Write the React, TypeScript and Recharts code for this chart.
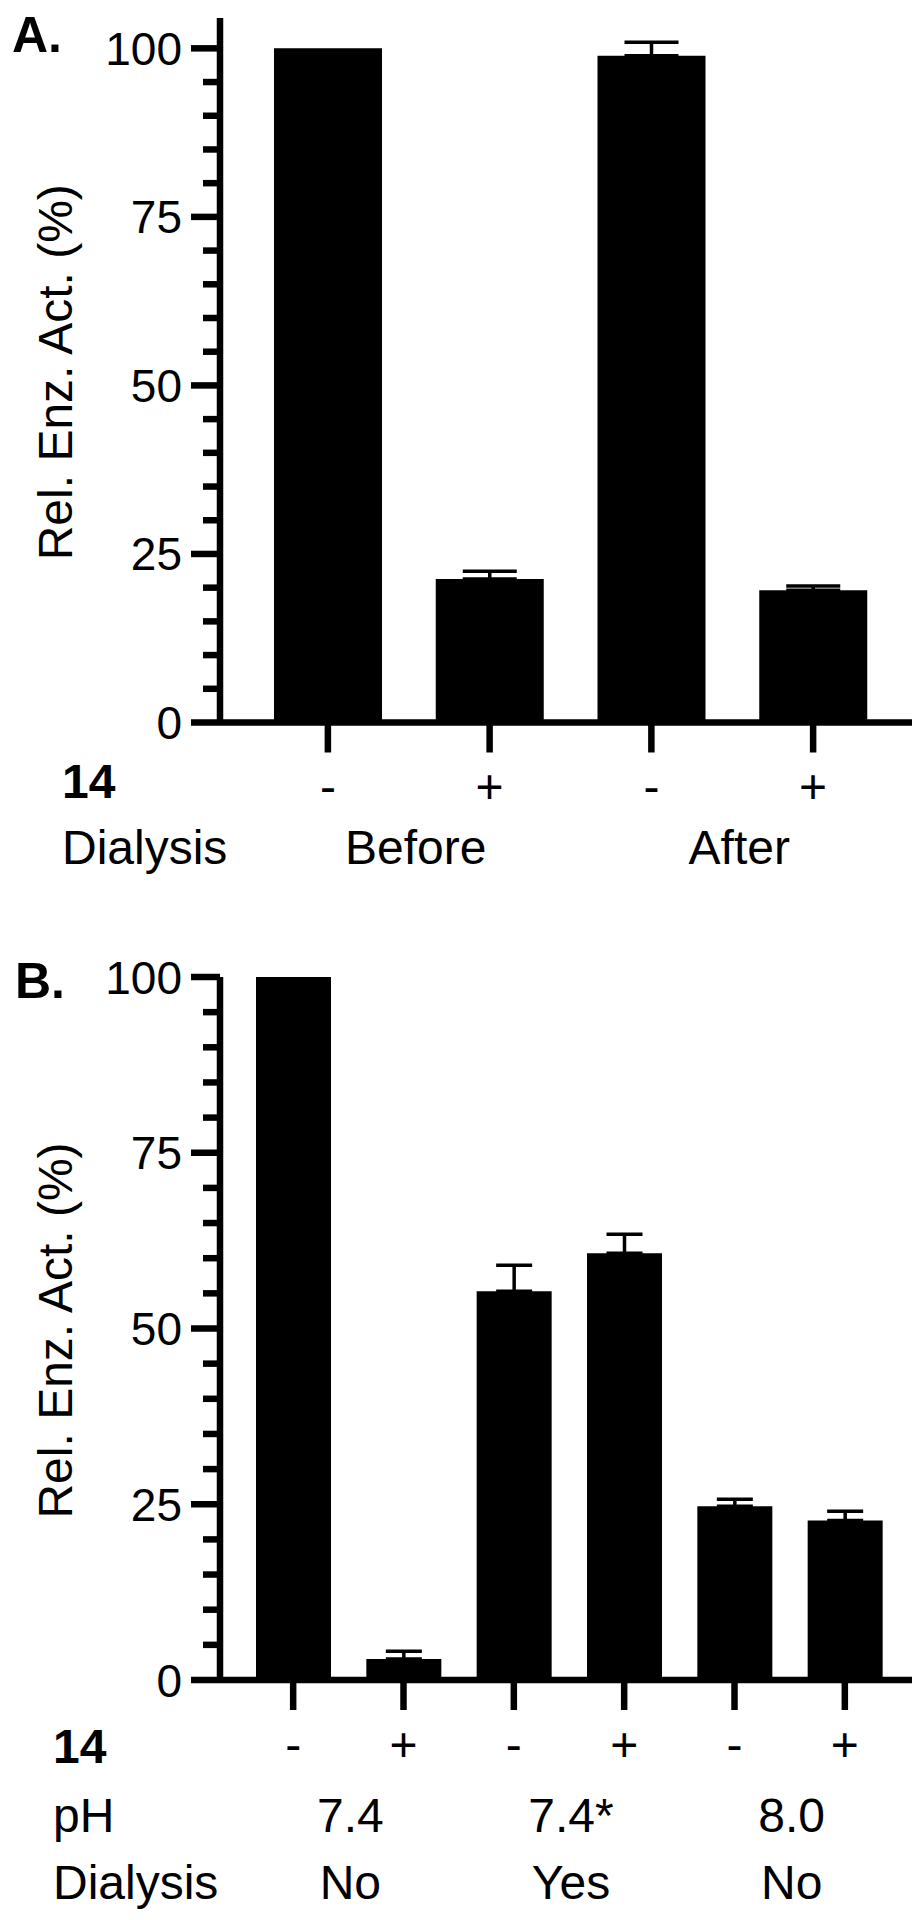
import React from 'react';
import { BarChart, Bar, XAxis, YAxis, ErrorBar, Label } from 'recharts';

const FONT = '"Liberation Sans", Arial, Helvetica, sans-serif';

// ---------- Panel A data ----------
const categoriesA = ['Before -', 'Before +', 'After -', 'After +'];
const compoundA = ['-', '+', '-', '+'];
const groupOfA = ['Before', 'Before', 'After', 'After'];
const meansA = [100, 21.3, 98.9, 19.6];
const errorsA = [null, 1.15, 2.0, 0.65];
const dialysisA = ['Before', 'After'];

// ---------- Panel B data ----------
const categoriesB = ['7.4 No -', '7.4 No +', '7.4* Yes -', '7.4* Yes +', '8.0 No -', '8.0 No +'];
const compoundB = ['-', '+', '-', '+', '-', '+'];
const groupOfB = ['7.4 No', '7.4 No', '7.4* Yes', '7.4* Yes', '8.0 No', '8.0 No'];
const meansB = [100, 3.0, 55.3, 60.7, 24.7, 22.7];
const errorsB = [null, 1.1, 3.7, 2.7, 1.0, 1.3];
const phB = ['7.4', '7.4*', '8.0'];
const dialysisB = ['No', 'Yes', 'No'];

// ---------- Axis ticks ----------
const yTicks = [0, 5, 10, 15, 20, 25, 30, 35, 40, 45, 50, 55, 60, 65, 70, 75, 80, 85, 90, 95, 100];
const yMajorTicks = [0, 25, 50, 75, 100];

const AXIS_W = 6.5;
const H1 = 40;

type RowSpec = { title: string; labels: string[]; dy: number };

type PanelCfg = {
  letter: string;
  letterX: number;
  letterY: number;
  top: number;
  height: number;
  marginTop: number;
  plotH: number;
  domainMax: number;
  padL: number;
  padR: number;
  barSize: number;
  capHalf: number;
  cats: string[];
  groups: string[];
  means: number[];
  errs: (number | null)[];
  cmpd: string[];
  cmpdDy: number;
  cmpdTitleDy: number;
  titleX: number;
  groupDx: number;
  rows: RowSpec[];
};

function Panel({ cfg }: { cfg: PanelCfg }) {
  const data = cfg.cats.map((c, i) => ({
    cat: c,
    grp: cfg.groups[i],
    mean: cfg.means[i],
    err: cfg.errs[i] == null ? null : [0, cfg.errs[i] as number],
  }));
  const H2 = cfg.height - cfg.marginTop - cfg.plotH - H1;
  const uniqueGroups = cfg.groups.filter((g, i) => cfg.groups.indexOf(g) === i);

  const yTick = (props: any) => {
    const { x, y, payload } = props;
    const v = payload.value;
    const major = yMajorTicks.includes(v);
    const len = major ? 29 : 17;
    return (
      <g>
        <line x1={x - len} y1={y} x2={x} y2={y} stroke="#000" strokeWidth={AXIS_W} />
        {major && (
          <text x={x - 38} y={y + 16.5} textAnchor="end" fontSize={46} fontFamily={FONT} fill="#000">
            {v}
          </text>
        )}
      </g>
    );
  };

  const xTick = (props: any) => {
    const { x, y, index } = props;
    return (
      <g>
        <line x1={x} y1={y} x2={x} y2={y + 30} stroke="#000" strokeWidth={AXIS_W} />
        <text x={x} y={y + cfg.cmpdDy} textAnchor="middle" fontSize={48} fontFamily={FONT} fill="#000">
          {cfg.cmpd[index]}
        </text>
        {index === 0 && (
          <text x={cfg.titleX} y={y + cfg.cmpdTitleDy} fontSize={48} fontWeight="bold" fontFamily={FONT} fill="#000">
            14
          </text>
        )}
      </g>
    );
  };

  const groupTick = (props: any) => {
    const { x, y, payload } = props;
    const gi = uniqueGroups.indexOf(payload.value);
    const base = y - H1;
    return (
      <g>
        {cfg.rows.map((r, ri) => (
          <g key={ri}>
            {gi >= 0 && (
              <text x={x + cfg.groupDx} y={base + r.dy} textAnchor="middle" fontSize={48} fontFamily={FONT} fill="#000">
                {r.labels[gi]}
              </text>
            )}
            {gi === 0 && (
              <text x={cfg.titleX} y={base + r.dy} fontSize={48} fontFamily={FONT} fill="#000">
                {r.title}
              </text>
            )}
          </g>
        ))}
      </g>
    );
  };

  const yLabel = () => {
    const cy = cfg.marginTop + cfg.plotH / 2 + 2;
    return (
      <g>
        <text
          x={72}
          y={cy}
          textAnchor="middle"
          fontSize={48}
          fontFamily={FONT}
          fill="#000"
          transform={`rotate(-90, 72, ${cy})`}
        >
          Rel. Enz. Act. (%)
        </text>
        <text x={cfg.letterX} y={cfg.letterY} fontSize={50} fontWeight="bold" fontFamily={FONT} fill="#000">
          {cfg.letter}
        </text>
      </g>
    );
  };

  return (
    <div style={{ position: 'absolute', left: 0, top: cfg.top, width: 923, height: cfg.height }}>
      <BarChart
        width={923}
        height={cfg.height}
        data={data}
        margin={{ top: cfg.marginTop, right: 11, left: 0, bottom: 0 }}
        barCategoryGap={0}
      >
        <XAxis
          dataKey="cat"
          xAxisId={0}
          height={H1}
          padding={{ left: cfg.padL, right: cfg.padR }}
          axisLine={{ stroke: '#000', strokeWidth: AXIS_W }}
          tickLine={false}
          tickSize={0}
          tickMargin={0}
          interval={0}
          tick={xTick}
        />
        <XAxis
          dataKey="grp"
          xAxisId="grp"
          type="category"
          allowDuplicatedCategory={false}
          height={H2}
          padding={{ left: cfg.padL, right: cfg.padR }}
          axisLine={false}
          tickLine={false}
          tickSize={0}
          tickMargin={0}
          interval={0}
          tick={groupTick}
        />
        <YAxis
          type="number"
          width={220}
          domain={[0, cfg.domainMax]}
          ticks={yTicks}
          allowDataOverflow
          interval={0}
          axisLine={{ stroke: '#000', strokeWidth: AXIS_W }}
          tickLine={false}
          tickSize={0}
          tickMargin={0}
          tick={yTick}
        >
          <Label content={yLabel} />
        </YAxis>
        <Bar dataKey="mean" xAxisId={0} fill="#000" barSize={cfg.barSize} isAnimationActive={false}>
          <ErrorBar
            dataKey="err"
            direction="y"
            width={cfg.capHalf}
            stroke="#000"
            strokeWidth={3.5}
            isAnimationActive={false}
          />
        </Bar>
      </BarChart>
    </div>
  );
}

const cfgA: PanelCfg = {
  letter: 'A.',
  letterX: 12,
  letterY: 52,
  top: 0,
  height: 900,
  marginTop: 18,
  plotH: 704.5,
  domainMax: 104.5,
  padL: 27,
  padR: 18,
  barSize: 108,
  capHalf: 27,
  cats: categoriesA,
  groups: groupOfA,
  means: meansA,
  errs: errorsA,
  cmpd: compoundA,
  cmpdDy: 80,
  cmpdTitleDy: 75,
  titleX: 62,
  groupDx: 7,
  rows: [{ title: 'Dialysis', labels: dialysisA, dy: 141 }],
};

const cfgB: PanelCfg = {
  letter: 'B.',
  letterX: 15,
  letterY: 98,
  top: 900,
  height: 1020,
  marginTop: 77,
  plotH: 703,
  domainMax: 100,
  padL: 18,
  padR: 12,
  barSize: 75,
  capHalf: 18,
  cats: categoriesB,
  groups: groupOfB,
  means: meansB,
  errs: errorsB,
  cmpd: compoundB,
  cmpdDy: 81,
  cmpdTitleDy: 83,
  titleX: 53,
  groupDx: 2,
  rows: [
    { title: 'pH', labels: phB, dy: 152 },
    { title: 'Dialysis', labels: dialysisB, dy: 219 },
  ],
};

export default function App() {
  return (
    <div style={{ position: 'absolute', left: 0, top: 0, width: 923, height: 1920, background: '#fff' }}>
      <Panel cfg={cfgA} />
      <Panel cfg={cfgB} />
    </div>
  );
}
